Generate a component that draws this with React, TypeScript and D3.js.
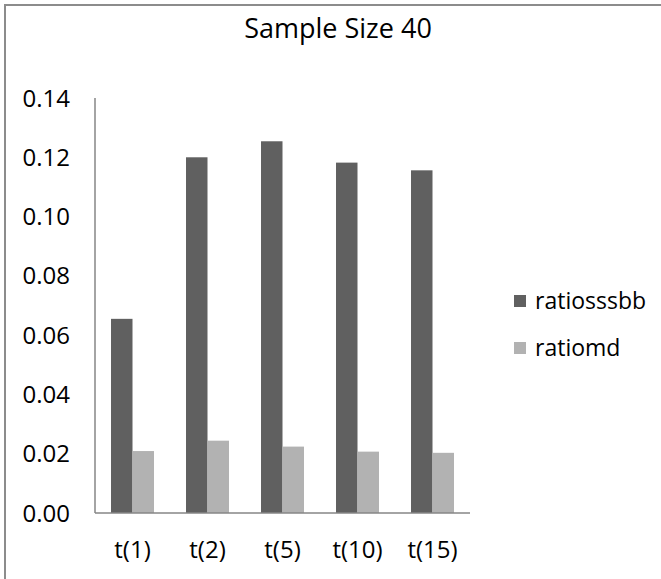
import * as d3 from 'd3';
import React, { useEffect, useRef } from 'react';

const categories = ["t(1)", "t(2)", "t(5)", "t(10)", "t(15)"];
const seriesNames = ["ratiosssbb", "ratiomd"];
const ratiosssbb = [0.0655, 0.1200, 0.1254, 0.1182, 0.1156];
const ratiomd = [0.0209, 0.0244, 0.0224, 0.0207, 0.0203];
const yTicks = [0, 0.02, 0.04, 0.06, 0.08, 0.10, 0.12, 0.14];
const title = "Sample Size 40";

const App = () => {
  const ref = useRef<SVGSVGElement | null>(null);

  useEffect(() => {
    const width = 661;
    const height = 579;
    const colors = ["#606060", "#b2b2b2"];
    const font = "'Open Sans', sans-serif";
    const values = [ratiosssbb, ratiomd];

    const svg = d3.select(ref.current);
    svg.selectAll("*").remove();

    // outer chart frame (right/bottom edges fall outside the picture)
    svg.append("rect")
      .attr("x", 5).attr("y", 5)
      .attr("width", width + 20).attr("height", height + 20)
      .attr("fill", "#fff")
      .attr("stroke", "#8c8c8c")
      .attr("stroke-width", 2);

    const left = 95, right = 470, top = 98, bottom = 513;

    const y = d3.scaleLinear().domain([0, 0.14]).range([bottom, top]);
    const x = d3.scaleBand().domain(categories).range([left, right])
      .paddingInner(0.427).paddingOuter(0.2135);
    const xs = d3.scaleBand().domain(seriesNames).range([0, x.bandwidth()]);

    svg.append("text")
      .attr("x", 338).attr("y", 38)
      .attr("text-anchor", "middle")
      .attr("font-family", font).attr("font-size", 27)
      .attr("fill", "#000")
      .text(title);

    // bars
    seriesNames.forEach((s, si) => {
      svg.append("g").selectAll("rect")
        .data(categories)
        .enter()
        .append("rect")
        .attr("x", (d) => x(d)! + xs(s)!)
        .attr("y", (d, i) => y(values[si][i]))
        .attr("width", xs.bandwidth())
        .attr("height", (d, i) => bottom - y(values[si][i]))
        .attr("fill", colors[si]);
    });

    // axes
    svg.append("line")
      .attr("x1", left).attr("x2", left)
      .attr("y1", top).attr("y2", bottom)
      .attr("stroke", "#868686").attr("stroke-width", 1.5);
    svg.append("line")
      .attr("x1", left).attr("x2", right)
      .attr("y1", bottom).attr("y2", bottom)
      .attr("stroke", "#868686").attr("stroke-width", 1.5);

    svg.append("g").selectAll("text")
      .data(yTicks)
      .enter()
      .append("text")
      .attr("x", 70)
      .attr("y", (d) => y(d))
      .attr("dy", "0.36em")
      .attr("text-anchor", "end")
      .attr("font-family", font).attr("font-size", 24)
      .attr("fill", "#000")
      .text((d) => d3.format(".2f")(d));

    svg.append("g").selectAll("text")
      .data(categories)
      .enter()
      .append("text")
      .attr("x", (d) => x(d)! + x.bandwidth() / 2)
      .attr("y", 558)
      .attr("text-anchor", "middle")
      .attr("font-family", font).attr("font-size", 24)
      .attr("fill", "#000")
      .text((d) => d);

    // legend
    const legend = svg.append("g").selectAll("g")
      .data(seriesNames)
      .enter()
      .append("g")
      .attr("transform", (d, i) => "translate(514," + (301 + i * 47) + ")");
    legend.append("rect")
      .attr("x", 0).attr("y", -6)
      .attr("width", 12).attr("height", 12)
      .attr("fill", (d, i) => colors[i]);
    legend.append("text")
      .attr("x", 21).attr("y", 0)
      .attr("dy", "0.36em")
      .attr("font-family", font).attr("font-size", 23)
      .attr("fill", "#000")
      .text((d) => d);
  }, []);

  return (
    <svg ref={ref} width={661} height={579}
      style={{ position: "absolute", left: 0, top: 0, display: "block" }} />
  );
};

export default App;
